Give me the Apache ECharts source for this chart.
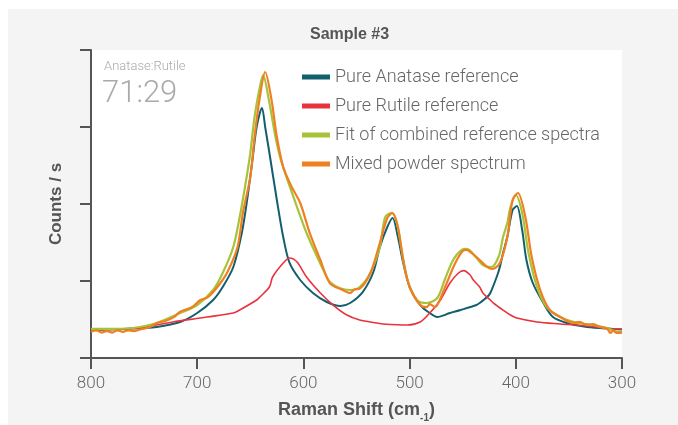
<!DOCTYPE html>
<html>
<head>
<meta charset="utf-8">
<script src="https://cdn.jsdelivr.net/npm/echarts@6/dist/echarts.min.js"></script>
<style>
html,body{margin:0;padding:0;background:#fff;}
#wrap{position:relative;width:678px;height:425px;}
#bg{position:absolute;left:8px;top:9px;right:0;bottom:0;background:#f4f4f4;}
#chart{position:absolute;left:0;top:0;width:678px;height:425px;}
</style>
</head>
<body>
<div id="wrap"><div id="bg"></div><div id="chart"></div></div>
<script>
// Raman shift (cm-1), counts/s (arbitrary units, tick every 100)
const xTicks = [800, 700, 600, 500, 400, 300];
const seriesNames = ['Pure Anatase reference', 'Pure Rutile reference', 'Fit of combined reference spectra', 'Mixed powder spectrum'];
const ratioLabel = 'Anatase:Rutile';
const ratioValue = '71:29';

const anatase = [
 [800,36.4],[770,37.7],[754,39],[738,40.3],[716,46.8],[700,58.4],[685,75.3],[676,92.2],[666,118.2],[658,162.3],
 [653,205.2],[648,257.1],[644,300],[639,324.7],[636,300],[632,266.2],[625,205.2],[619,157.1],[613,123.4],[603,101.3],
 [591,84.4],[578,72.7],[565,67.5],[556,71.4],[544,86],[534,112],[528,144.2],[521,170.1],[516,181.8],[511,157.1],
 [506,123.4],[500,92.2],[490,68.8],[481,58.4],[474,53.2],[462,58.4],[452,62.3],[437,68.8],[434,71.4],[427,79.2],
 [424,84.4],[418,105.2],[415,118.2],[412,136.4],[408,157.1],[403,192.2],[399,197.4],[394,166.2],[390,127.3],[384,97.4],
 [374,71.4],[365,53.2],[352,45.5],[333,40.3],[308,37.7],[300,37]
];
const rutile = [
 [800,36.4],[770,37.7],[754,39],[723,46.8],[697,51.9],[691,53.2],[666,58.4],[660,62.3],[644,75.3],[641,79.2],
 [632,92.2],[629,105.2],[619,123.4],[613,129.9],[606,124.7],[597,105.2],[584,84.4],[572,68.8],[559,55.8],[547,49.4],
 [531,45.5],[525,44.2],[502,42.9],[490,46.8],[481,58.4],[471,75.3],[462,97.4],[454,110.4],[449,113.5],[443,107.8],
 [440,101.3],[434,92.2],[431,84.4],[424,75.3],[421,71.4],[412,62.3],[405,55.8],[399,51.9],[380,46.8],[358,44.2],
 [333,41.6],[305,37.7],[300,37.7]
];
const fit = [
 [800,37.7],[770,38],[754,40.3],[738,45.5],[716,58.4],[700,68.8],[685,88.3],[676,110.4],[666,144.2],[660,183.1],
 [655,222.1],[650,266.2],[646,313],[641,351.9],[638,367.5],[632,331.2],[627,292.2],[622,261],[615,231.2],[606,196.1],
 [597,162.3],[587,131.2],[578,105.2],[575,98.7],[566,90.9],[556,88.3],[547,92.2],[537,110.4],[528,144.2],[523,183.1],
 [517,188.3],[512,175.3],[507,136.4],[502,101.3],[493,75.3],[484,71.4],[474,77.9],[467,101.3],[459,127.3],[451,140.3],
 [446,141.6],[437,129.9],[431,120.8],[424,118.2],[421,119.5],[418,126],[415,136.4],[412,157.1],[408,175.3],[405,196.1],
 [400,211.7],[394,188.3],[388,136.4],[380,92.2],[371,66.2],[358,53.2],[342,45.5],[327,42.9],[314,39],[305,33.8],[300,34]
];
const mixed = [
 [800,34],[795,36],[790,33],[785,35],[780,33],[775,36],[770,34],[765,36],[760,35],[754,37],
 [745,40],[738,45.5],[730,48],[722,53],[716,60],[705,66],[697,75.3],[690,79],[681,92.2],[672,110.4],
 [662,144.2],[657,188.3],[650,235.1],[646,287],[641,339],[636,371.4],[630,335],[625,287],[619,248.1],[611,222.1],
 [603,201.3],[594,162.3],[584,127.3],[575,97],[563,88.3],[559,85.7],[556,84.4],[552,89],[547,90],[537,110],
 [528,149.4],[521,181.8],[516,188.3],[511,170.1],[506,127.3],[500,92.2],[490,68.8],[484,66],[481,70],[476,66.2],[473,71.4],
 [465,97.4],[457,123.4],[450,139],[446,140.3],[443,137.7],[436,129.9],[427,118.2],[422,115.6],[415,123.4],
 [408,157.1],[403,205.2],[398,214.3],[391,183.1],[385,131.2],[377,88.3],[368,62.3],[358,53.2],[346,45.5],[340,47],
 [333,42.9],[327,44],[321,40.3],[314,38],[311,32.5],[308,36],[305,32.5],[300,33]
];

const colors = ['#135f6e', '#e9333c', '#a8c23a', '#f07f22'];
const chart = echarts.init(document.getElementById('chart'));
const font = 'Roboto, "Liberation Sans", Arial, sans-serif';
const boldFont = '"Liberation Sans", Arial, sans-serif';

function mk(name, data, color, width) {
  return {name, type: 'line', data, showSymbol: false, smooth: 0.3, color,
    lineStyle: {color, width}, emphasis: {disabled: true}, animation: false};
}

chart.setOption({
  animation: false,
  backgroundColor: 'transparent',
  title: {text: 'Sample #3', left: 305, top: 22,
    textStyle: {fontFamily: boldFont, fontSize: 16, fontWeight: 'bold', color: '#555'}},
  legend: {orient: 'vertical', left: 297, top: 63, itemWidth: 28, itemHeight: 5, itemGap: 11, icon: 'rect',
    textStyle: {fontFamily: font, fontWeight: 300, fontSize: 18, color: '#666'},
    data: seriesNames},
  grid: {left: 91, right: 56, top: 50, bottom: 67, show: true, backgroundColor: '#fff', borderWidth: 0,
    outerBoundsMode: 'none', containLabel: false},
  xAxis: {type: 'value', min: 300, max: 800, interval: 100, inverse: true,
    name: '{b|Raman Shift (cm}{s|-1}{b|)}', nameLocation: 'middle', nameGap: 43,
    nameTextStyle: {rich: {
      b: {fontFamily: boldFont, fontSize: 18, fontWeight: 'bold', color: '#555', verticalAlign: 'top', lineHeight: 22},
      s: {fontFamily: boldFont, fontSize: 10, fontWeight: 'bold', color: '#555', verticalAlign: 'bottom', lineHeight: 22}}},
    axisLine: {lineStyle: {color: '#555', width: 2}},
    axisTick: {length: 11, lineStyle: {color: '#555', width: 2}},
    axisLabel: {fontFamily: font, fontWeight: 300, fontSize: 17, color: '#666', margin: 17,
      formatter: v => xTicks.includes(v) ? String(v) : ''},
    splitLine: {show: false}},
  yAxis: {type: 'value', min: 0, max: 400, interval: 100,
    name: 'Counts / s', nameLocation: 'middle', nameGap: 26,
    nameTextStyle: {fontFamily: boldFont, fontSize: 17, fontWeight: 'bold', color: '#555'},
    axisLine: {show: true, lineStyle: {color: '#555', width: 2}},
    axisTick: {show: true, length: 11, lineStyle: {color: '#555', width: 2}},
    axisLabel: {show: false}, splitLine: {show: false}},
  graphic: [
    {type: 'text', left: 104, top: 60, style: {text: ratioLabel, font: '300 13px ' + font, fill: '#aaa'}},
    {type: 'text', left: 102, top: 79, style: {text: ratioValue, font: '300 31px ' + font, fill: '#aaa'}}
  ],
  series: [
    mk(seriesNames[0], anatase, colors[0], 2),
    mk(seriesNames[1], rutile, colors[1], 1.6),
    mk(seriesNames[2], fit, colors[2], 2.2),
    mk(seriesNames[3], mixed, colors[3], 2.2)
  ]
});
</script>
</body>
</html>
